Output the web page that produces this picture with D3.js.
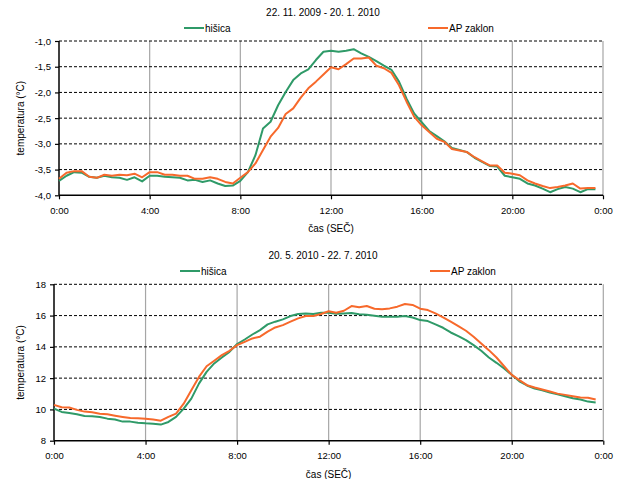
<!DOCTYPE html>
<html>
<head>
<meta charset="utf-8">
<script src="https://cdn.jsdelivr.net/npm/d3@7/dist/d3.min.js"></script>
<style>
  body { margin: 0; background: #fff; }
  svg { font-family: "Liberation Sans", Arial, sans-serif; }
</style>
</head>
<body>
<svg width="619" height="479"></svg>
<script>
// --- data: 20 min readings, 0:00 .. 23:40 ---
const seriesNames = ["hišica", "AP zaklon"];
const seriesColors = ["#2f9a68", "#f7692b"];
const xTickHours = [0, 4, 8, 12, 16, 20, 24];
const xTickLabels = ["0:00", "4:00", "8:00", "12:00", "16:00", "20:00", "0:00"];

const winterTitle = "22. 11. 2009 - 20. 1. 2010";
const winterTicks = [-4.0, -3.5, -3.0, -2.5, -2.0, -1.5, -1.0];
const winterHisica = [
  -3.72, -3.62, -3.55, -3.56, -3.64, -3.66, -3.62, -3.65, -3.66, -3.70, -3.65, -3.73,
  -3.62, -3.62, -3.64, -3.65, -3.66, -3.71, -3.70, -3.74, -3.71, -3.77, -3.82, -3.81,
  -3.72, -3.55, -3.22, -2.70, -2.57, -2.25, -1.99, -1.76, -1.63, -1.55, -1.37, -1.21,
  -1.19, -1.21, -1.19, -1.16, -1.24, -1.31, -1.39, -1.48, -1.56, -1.79, -2.12, -2.41,
  -2.58, -2.75, -2.85, -2.95, -3.08, -3.12, -3.16, -3.27, -3.35, -3.43, -3.44, -3.62,
  -3.65, -3.68, -3.77, -3.81, -3.87, -3.94, -3.88, -3.84, -3.87, -3.94, -3.88, -3.88
];
const winterZaklon = [
  -3.68, -3.56, -3.53, -3.53, -3.64, -3.66, -3.60, -3.62, -3.60, -3.61, -3.58, -3.65,
  -3.55, -3.55, -3.60, -3.60, -3.62, -3.62, -3.68, -3.68, -3.65, -3.68, -3.74, -3.77,
  -3.66, -3.55, -3.38, -3.12, -2.86, -2.69, -2.42, -2.31, -2.10, -1.92, -1.79, -1.65,
  -1.51, -1.55, -1.45, -1.34, -1.34, -1.32, -1.48, -1.53, -1.62, -1.86, -2.18, -2.47,
  -2.64, -2.77, -2.90, -2.96, -3.10, -3.13, -3.16, -3.26, -3.34, -3.42, -3.42, -3.56,
  -3.58, -3.61, -3.71, -3.77, -3.82, -3.86, -3.84, -3.81, -3.77, -3.87, -3.86, -3.86
];

const summerTitle = "20. 5. 2010 - 22. 7. 2010";
const summerTicks = [8, 10, 12, 14, 16, 18];
const summerHisica = [
  10.05, 9.84, 9.77, 9.69, 9.58, 9.56, 9.52, 9.41, 9.35, 9.22, 9.22, 9.15,
  9.11, 9.09, 9.03, 9.20, 9.52, 10.05, 10.69, 11.65, 12.40, 12.94, 13.32, 13.68,
  14.18, 14.47, 14.79, 15.07, 15.44, 15.61, 15.76, 15.97, 16.10, 16.14, 16.10, 16.18,
  16.18, 16.12, 16.14, 16.16, 16.08, 16.06, 15.99, 15.93, 15.93, 15.93, 15.97, 15.88,
  15.71, 15.65, 15.44, 15.22, 14.92, 14.69, 14.43, 14.11, 13.75, 13.32, 12.98, 12.62,
  12.21, 11.80, 11.53, 11.33, 11.23, 11.08, 10.97, 10.84, 10.71, 10.63, 10.50, 10.44
];
const summerZaklon = [
  10.29, 10.14, 10.12, 9.97, 9.86, 9.82, 9.73, 9.69, 9.60, 9.52, 9.45, 9.43,
  9.41, 9.35, 9.28, 9.52, 9.73, 10.37, 11.23, 12.08, 12.76, 13.11, 13.47, 13.75,
  14.11, 14.32, 14.54, 14.65, 14.97, 15.24, 15.39, 15.61, 15.82, 15.97, 15.97, 16.10,
  16.28, 16.18, 16.31, 16.61, 16.53, 16.61, 16.44, 16.40, 16.46, 16.57, 16.74, 16.68,
  16.44, 16.35, 16.14, 15.88, 15.61, 15.33, 15.03, 14.65, 14.22, 13.79, 13.32, 12.76,
  12.21, 11.87, 11.55, 11.40, 11.27, 11.14, 11.01, 10.93, 10.84, 10.76, 10.74, 10.63
];

let svg = d3.select("svg");

function fmtComma(v) {
  return v.toFixed(1).replace(".", ",");
}

function drawChart(cfg) {
  let g = svg.append("g");
  let x = d3.scaleLinear().domain([0, 24]).range([cfg.left, cfg.right]);
  let y = d3.scaleLinear().domain([cfg.ticks[0], cfg.ticks[cfg.ticks.length - 1]])
    .range([cfg.bottom, cfg.top]);

  // title
  g.append("text")
    .attr("x", 323).attr("y", cfg.titleY)
    .attr("text-anchor", "middle").attr("font-size", "10px")
    .text(cfg.title);

  // legend
  cfg.legendX.forEach(function (lx, i) {
    g.append("line")
      .attr("x1", lx).attr("x2", lx + 20)
      .attr("y1", cfg.legendY).attr("y2", cfg.legendY)
      .attr("stroke", seriesColors[i]).attr("stroke-width", 2);
    g.append("text")
      .attr("x", lx + 21).attr("y", cfg.legendY + 3.5)
      .attr("font-size", "10px")
      .text(seriesNames[i]);
  });

  // vertical grid
  g.selectAll(".vg").data(xTickHours.slice(1)).enter().append("line")
    .attr("x1", d => x(d)).attr("x2", d => x(d))
    .attr("y1", cfg.top).attr("y2", cfg.bottom)
    .attr("stroke", "#a6a6a6").attr("stroke-width", 1.2);

  // horizontal dashed grid
  g.selectAll(".hg").data(cfg.ticks.slice(1)).enter().append("line")
    .attr("x1", cfg.left).attr("x2", cfg.right)
    .attr("y1", d => y(d)).attr("y2", d => y(d))
    .attr("stroke", "#000").attr("stroke-width", 1)
    .attr("stroke-dasharray", "3,2");

  // axes
  let yAxis = d3.axisLeft(y).tickValues(cfg.ticks).tickSize(4).tickPadding(4)
    .tickFormat(cfg.fmt);
  let ya = g.append("g").attr("transform", "translate(" + cfg.left + ",0)").call(yAxis);
  let xAxis = d3.axisBottom(x).tickValues(xTickHours).tickSize(4).tickPadding(8)
    .tickFormat((d, i) => xTickLabels[i]);
  let xa = g.append("g").attr("transform", "translate(0," + cfg.bottom + ")").call(xAxis);
  [ya, xa].forEach(function (a) {
    a.select(".domain").attr("stroke", "#000").attr("stroke-width", 1.5);
    a.selectAll(".tick line").attr("stroke", "#000").attr("stroke-width", 1.2);
    a.selectAll("text").attr("font-size", "9.5px").attr("fill", "#000")
      .attr("font-family", "'Liberation Sans', Arial, sans-serif");
  });
  xa.select(".domain").attr("d", "M" + cfg.left + ",0H" + cfg.right);
  ya.select(".domain").attr("d", "M0," + cfg.top + "V" + cfg.bottom);

  // axis titles
  g.append("text")
    .attr("transform", "translate(" + cfg.yLabelX + "," + ((cfg.top + cfg.bottom) / 2) + ") rotate(-90)")
    .attr("text-anchor", "middle").attr("font-size", "10px")
    .text("temperatura (°C)");
  g.append("text")
    .attr("x", (cfg.left + cfg.right) / 2).attr("y", cfg.bottom + 37)
    .attr("text-anchor", "middle").attr("font-size", "10px")
    .text("čas (SEČ)");

  // series
  let line = d3.line()
    .x((d, i) => x(i / 3))
    .y(d => y(d));
  cfg.series.forEach(function (s, i) {
    g.append("path")
      .datum(s)
      .attr("d", line)
      .attr("fill", "none")
      .attr("stroke", seriesColors[i])
      .attr("stroke-width", 2)
      .attr("stroke-linejoin", "round");
  });
}

drawChart({
  title: winterTitle, titleY: 16,
  legendY: 28, legendX: [184, 428],
  left: 59, right: 603, top: 41, bottom: 195.3,
  ticks: winterTicks, fmt: fmtComma, yLabelX: 24,
  series: [winterHisica, winterZaklon]
});

drawChart({
  title: summerTitle, titleY: 259,
  legendY: 271, legendX: [180, 430],
  left: 54, right: 603.3, top: 284.3, bottom: 440.7,
  ticks: summerTicks, fmt: d3.format("d"), yLabelX: 24,
  series: [summerHisica, summerZaklon]
});
</script>
</body>
</html>
